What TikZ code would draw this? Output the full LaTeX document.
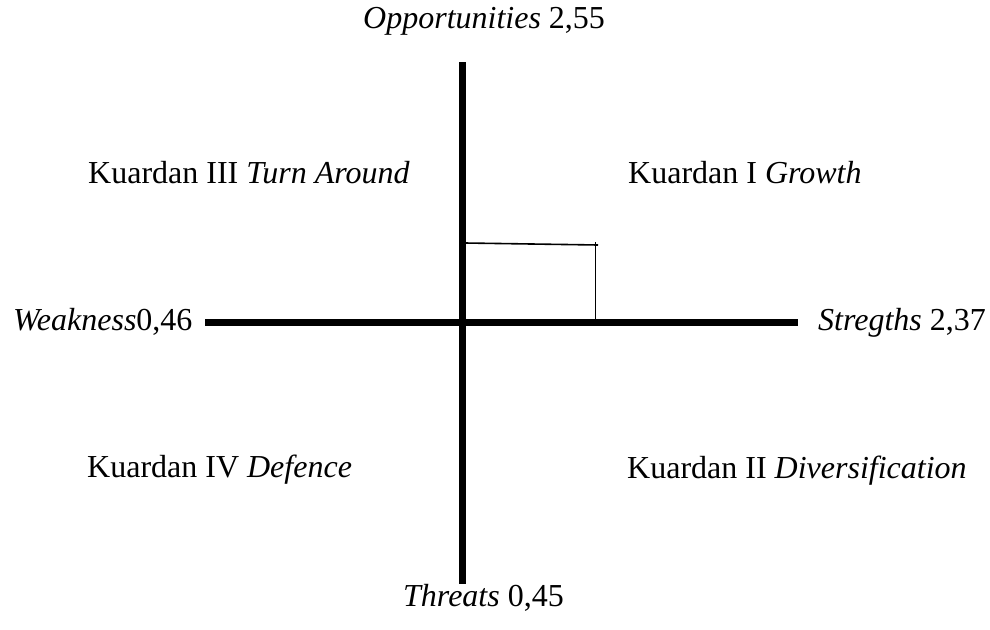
\documentclass[tikz,border=0pt]{standalone}
\usepackage{fontspec}
\setmainfont{Liberation Serif}
\begin{document}
\begin{tikzpicture}[x=1pt,y=-1pt,
  lbl/.style={anchor=base west,inner sep=0pt,font=\fontsize{32}{38}\selectfont},
  axis/.style={line width=7pt},
  thin/.style={line width=1.6pt}]
\useasboundingbox (0,0) rectangle (990,629);
% axes
\coordinate (top) at (462,62);
\coordinate (bot) at (462,584);
\coordinate (left) at (205,322.5);
\coordinate (right) at (798,322.5);
\draw[axis] (top) -- (bot);
\draw[axis] (left) -- (right);
% small rectangle
\coordinate (r1) at (465,243);
\coordinate (r2) at (598,245);
\coordinate (r3) at (595.5,242);
\coordinate (r4) at (595.5,320);
\draw[thin] (r1) -- (r2);
\draw[thin] (r3) -- (r4);
% labels
\node[lbl] (opp) at (363,28) {\textit{Opportunities} 2,55};
\node[lbl] (thr) at (403,606) {\textit{Threats} 0,45};
\node[lbl] (weak) at (13,330) {\textit{Weakness}0,46};
\node[lbl] (str) at (818,330) {\textit{Stregths} 2,37};
\node[lbl] (q3) at (88,183) {Kuardan III \textit{Turn Around}};
\node[lbl] (q1) at (628,183) {Kuardan I \textit{Growth}};
\node[lbl] (q4) at (87,477) {Kuardan IV \textit{Defence}};
\node[lbl] (q2) at (627,478) {Kuardan II \textit{Diversification}};
\end{tikzpicture}
\end{document}
